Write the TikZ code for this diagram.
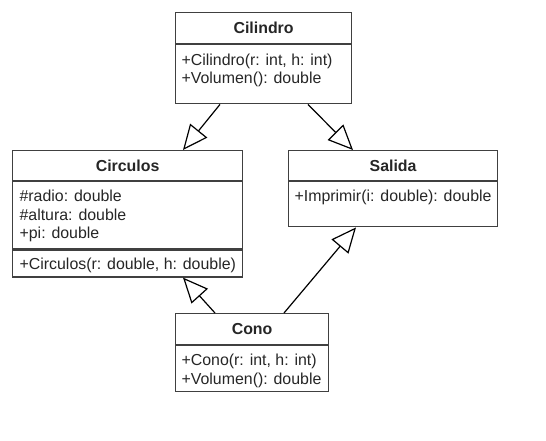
\documentclass[tikz,border=0pt]{standalone}
\usepackage{fontspec}
\setmainfont{Liberation Sans}
\usetikzlibrary{arrows.meta,positioning}
\newcommand\umlsize{\fontsize{15.9}{18.6}\selectfont}

\begin{document}
\begin{tikzpicture}[x=1pt, y=-1pt, line width=1.2pt,
every node/.style={text=black!85},
head/.style={draw=black!75, rectangle, inner sep=0pt, text height=11pt, text depth=0pt, font=\umlsize\bfseries},
body/.style={draw=black!75, rectangle, inner sep=0pt},
members/.style={anchor=base west, align=left, inner sep=0pt, font=\umlsize},
inherit/.style={-{Triangle[open, length=25pt, width=22pt, fill=white]}, black}]

\useasboundingbox (0,0) rectangle (546,440);

\node (cilh) [head, anchor=north west, minimum width=176pt, minimum height=31pt] at (175,12) {Cilindro};
\node (cilb) [body, below=0pt of cilh, minimum width=176pt, minimum height=59pt] {};
\node (cilt) [members] at ([xshift=6pt,yshift=-39.6pt]cilb.north west) {+Cilindro(r: int, h: int)\\+Volumen(): double};

\node (circh) [head, anchor=north west, minimum width=230pt, minimum height=30pt] at (12,150) {Circulos};
\node (circa) [body, below=0pt of circh, minimum width=230pt, minimum height=67pt] {};
\node (circm) [body, below=0pt of circa, minimum width=230pt, minimum height=27pt] {};
\node (circt) [members] at ([xshift=7pt,yshift=-57.7pt]circa.north west) {\#radio: double\\\#altura: double\\+pi: double};
\node (circo) [members] at ([xshift=7pt,yshift=-20pt]circm.north west) {+Circulos(r: double, h: double)};

\node (salh) [head, anchor=north west, minimum width=209pt, minimum height=30pt] at (288,150) {Salida};
\node (salb) [body, below=0pt of salh, minimum width=209pt, minimum height=45pt] {};
\node (salt) [members] at ([xshift=6pt,yshift=-20.5pt]salb.north west) {+Imprimir(i: double): double};

\node (conoh) [head, anchor=north west, minimum width=153pt, minimum height=31pt] at (175,313) {Cono};
\node (conob) [body, below=0pt of conoh, minimum width=153pt, minimum height=46pt] {};
\node (conot) [members] at ([xshift=6pt,yshift=-39.1pt]conob.north west) {+Cono(r: int, h: int)\\+Volumen(): double};

\draw[inherit] ([xshift=45pt]cilb.south west) -- ([xshift=171pt]circh.north west);
\draw[inherit] ([xshift=133pt]cilb.south west) -- ([xshift=65pt]salh.north west);
\draw[inherit] ([xshift=40pt]conoh.north west) -- ([xshift=171pt]circm.south west);
\draw[inherit] ([xshift=109pt]conoh.north west) -- ([xshift=68pt]salb.south west);

\end{tikzpicture}
\end{document}
